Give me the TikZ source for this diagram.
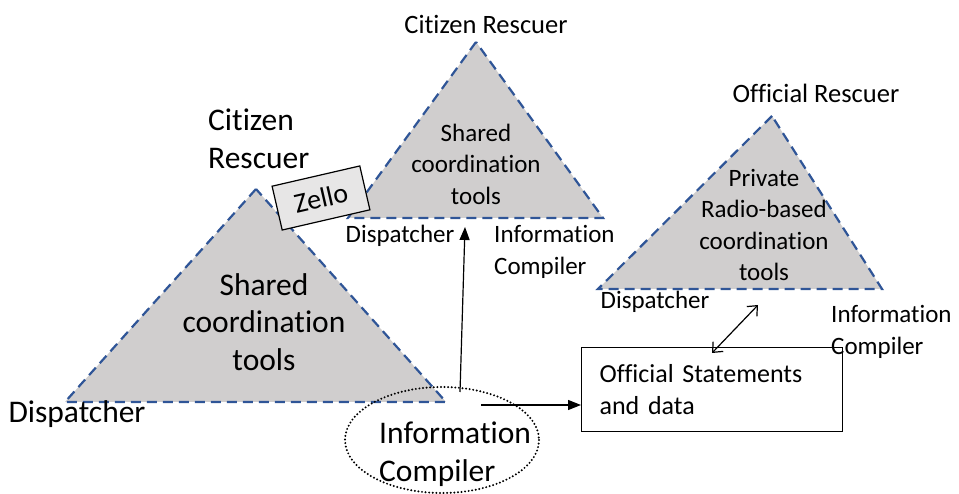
\documentclass[tikz,border=0pt]{standalone}
\usepackage{fontspec}
\setmainfont{Carlito}[Ligatures={NoCommon,NoRequired,NoContextual}]
\usetikzlibrary{shapes.geometric,arrows.meta}
\definecolor{trifill}{HTML}{D0CECE}
\definecolor{triline}{HTML}{2F5597}
\definecolor{zfill}{HTML}{E7E6E6}
\tikzset{
  tri/.style={fill=trifill, draw=triline, line width=2.2pt, dash pattern=on 10pt off 6pt, line join=miter},
  small/.style={font=\fontsize{25}{31.5}\selectfont, inner sep=0pt},
  apex/.style={font=\fontsize{26.5}{31.5}\selectfont, inner sep=0pt},
  big/.style={font=\fontsize{31.5}{37.5}\selectfont, inner sep=0pt},
  conn/.style={line width=1.2pt, -{Triangle[length=13pt,width=10pt]}},
  dconn/.style={line width=1.2pt, {Straight Barb[length=8pt,width=14pt]}-{Straight Barb[length=8pt,width=14pt]}}
}
\begin{document}
\begin{tikzpicture}[x=1pt,y=-1pt]
\useasboundingbox (0,0) rectangle (959,494);
% big triangle
\coordinate (bA) at (256,189);
\coordinate (bL) at (65,402);
\coordinate (bR) at (446,402);
\draw[tri] (bA) -- (bL) -- (bR) -- cycle;
% top triangle
\coordinate (tA) at (476,42);
\coordinate (tL) at (348,218);
\coordinate (tR) at (603,218);
\draw[tri] (tA) -- (tL) -- (tR) -- cycle;
% right triangle
\coordinate (rA) at (772,116);
\coordinate (rL) at (598,289);
\coordinate (rR) at (882,289);
\draw[tri] (rA) -- (rL) -- (rR) -- cycle;
% Zello
\node[draw, fill=zfill, line width=1.2pt, rotate=13, minimum width=90pt, minimum height=45pt, font=\fontsize{28}{32}\selectfont, inner sep=0pt] (zello) at (321,198) {Zello};
% labels
\node[apex] (ctop) at (486,24) {Citizen Rescuer};
\node[small, align=center] (sharedtop) at (476,164) {Shared\\coordination\\tools};
\node[small] (disptop) at (400,236) {Dispatcher};
\node[small, anchor=west, align=left] (ictop) at (494,252) {Information\\Compiler};
\node[big, anchor=west, align=left] (cleft) at (208,139) {Citizen\\Rescuer};
\node[big, align=center] (sharedbig) at (264,322) {Shared\\coordination\\tools};
\node[big] (dispbig) at (77,414) {Dispatcher};
\node[apex] (orescuer) at (816,93) {Official Rescuer};
\node[small, align=center] (private) at (764,225) {Private\\Radio-based\\coordination\\tools};
\node[small] (dispright) at (655,302) {Dispatcher};
\node[small, anchor=west, align=left] (icright) at (831,332) {Information\\Compiler};
% ellipse
\draw[line width=2.2pt, line cap=round, dash pattern=on 0pt off 3.6pt] (442,440) ellipse [x radius=97, y radius=53];
\node[big, anchor=west, align=left] (ic) at (379,454) {Information\\Compiler};
% box
\node[draw, line width=1.2pt, minimum width=261pt, minimum height=84pt, text width=225pt, inner xsep=18pt, align=left, font=\fontsize{26}{32}\selectfont, anchor=north west] (box) at (581,347) {Official Statements\\and data};
% connectors
\coordinate (v1) at (460,392);
\coordinate (v2) at (465,227);
\draw[conn] (v1) -- (v2);
\coordinate (h1) at (481,405);
\draw[conn] (h1) -- (h1 -| box.west);
\coordinate (d1) at (712,353);
\coordinate (d2) at (758,305);
\draw[dconn] (d1) -- (d2);
\end{tikzpicture}
\end{document}
